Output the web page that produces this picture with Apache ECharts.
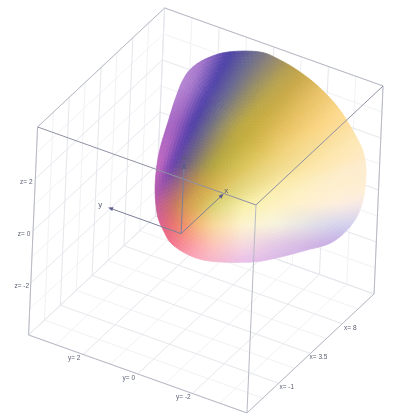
<!DOCTYPE html>
<html><head><meta charset="utf-8">
<style>html,body{margin:0;padding:0;background:#fff}#c{width:400px;height:420px}</style>
<script src="https://cdn.jsdelivr.net/npm/echarts@6/dist/echarts.min.js"></script>
</head><body><div id="c"></div>
<script>
// ---- data ----
const xTicks = [-1, 3.5, 8];
const yTicks = [2, 0, -2];
const zTicks = [2, 0, -2];
const xRange = [-5.5, 12.5];
const yRange = [-4, 4];
const zRange = [-4, 4];
const arrowLengths = [5.5, 2.5, 2.5];
const surfaceAngle = [0,10,30,49,65.4,79.3,91,107,118,128,136.5,147.7,160.6,178.9,195.7,209,217,225,236,247,265,278,295,309,323,335,349];
const surfaceRadius = [102,96.5,90,88.6,91.3,96.7,103,108,111,112,109,103,99.6,103,111,120,124,126.6,123,116,107.4,104,105,112,113.6,111,106];
const bandColumns = [-1,-0.5,-0.25,0,0.25,0.5,0.75,1,1.5,2,3,4,6,8];
const bandRows = [55,85,125,165,205,225,245,265];
const bandColours = [
 ['#c090d8','#c090d8','#a878cc','#4a40a8','#6a6a90','#8f8575','#b0984e','#c8a850','#f0c870','#fbd88a','#fde0a0','#fde8b0','#fde8b0','#fde8b0'],
 ['#c090d8','#c090d8','#a878cc','#4e40aa','#6a6a90','#958c68','#b8a450','#c9a848','#f0c870','#fde0a0','#fde8b8','#fdeac0','#fdeac0','#fdeac0'],
 ['#b070c8','#b070c8','#a060c0','#4c3ca8','#6a6a88','#988f62','#bca840','#c8ae40','#e8c060','#fcd684','#fdeac0','#fdeacc','#fdeacc','#fdeacc'],
 ['#c068c0','#c068c0','#c068c0','#6840b0','#6a5a88','#8a7c68','#a89c48','#bcae40','#d8c458','#ecd47c','#fde6a8','#fdecd0','#fdecd8','#fdecd8'],
 ['#c85ca8','#c85ca8','#c85ca8','#c85ca8','#c46090','#c46878','#c67860','#d09450','#d8b050','#d8d070','#f8f0a8','#fdf2c0','#fdeee0','#e4dcf0'],
 ['#d860a0','#d860a0','#d860a0','#d860a0','#dc6090','#e46878','#ea7870','#f08a64','#f4b878','#f8d898','#fdf4d0','#f8f4de','#d4d4ee','#c8c4ec'],
 ['#ec6090','#ec6090','#ec6090','#ec6090','#ee6090','#f26a90','#f47a92','#f88a96','#fba8a8','#fcc4b8','#f6dae0','#e4c8e6','#c4a8e2','#bfa4e0'],
 ['#f878a0','#f878a0','#f878a0','#f878a0','#f878a0','#f87ca4','#f88aac','#f8a0c0','#f6aac8','#f4b4d0','#e8bcec','#d8b4e8','#c4a8e2','#c4a8e2']
];

// ---- view: parallel projection of the 3D box on the page plane ----
const viewOrigin = [181.1, 233.6];
const ex = [7.06, -6.61], ey = [-27.3, -9.75], ez = [1.125, -26];
function project(x, y, z) {
  return [viewOrigin[0] + x*ex[0] + y*ey[0] + z*ez[0],
          viewOrigin[1] + x*ex[1] + y*ey[1] + z*ez[1]];
}
const [x0, x1] = xRange, [y0, y1] = yRange, [z0, z1] = zRange;
const xStep = (xTicks[1] - xTicks[0]), yStep = 2, zStep = 2;

const STYLE = {
  minor: {stroke:'#f1f2f4', lineWidth:1},
  major: {stroke:'#e6e7ec', lineWidth:1},
  box:   {stroke:'#b8bac6', lineWidth:1},
  front: {stroke:'#8f91a3', lineWidth:1},
  axis:  {stroke:'#7d7f98', lineWidth:1}
};
const back = [], front = [];
function isMajor(v, start, step){ const q=(v-start)/step; return Math.abs(q-Math.round(q))<1e-6; }
for (let x = x0; x <= x1 + 1e-6; x += xStep/2) {
  const s = isMajor(x,x0,xStep) ? 'major' : 'minor';
  back.push([x,y0,z0,x,y1,z0,s],[x,y1,z0,x,y1,z1,s]);
}
for (let y = y0; y <= y1 + 1e-6; y += yStep/2) {
  const s = isMajor(y,y0,yStep) ? 'major' : 'minor';
  back.push([x0,y,z0,x1,y,z0,s],[x1,y,z0,x1,y,z1,s]);
}
for (let z = z0; z <= z1 + 1e-6; z += zStep/2) {
  const s = isMajor(z,z0,zStep) ? 'major' : 'minor';
  back.push([x0,y1,z,x1,y1,z,s],[x1,y0,z,x1,y1,z,s]);
}
back.sort((a,b)=> (a[6]==='major') - (b[6]==='major'));
back.push([x0,y1,z1,x1,y1,z1,'box'],[x1,y1,z1,x1,y0,z1,'box'],
          [x0,y1,z0,x0,y1,z1,'box'],[x1,y0,z0,x1,y0,z1,'box'],
          [x0,y1,z0,x0,y0,z0,'box'],[x0,y0,z0,x1,y0,z0,'box']);
front.push([x0,y0,z1,x0,y1,z1,'front'],[x0,y0,z1,x1,y0,z1,'front'],[x0,y0,z0,x0,y0,z1,'box'],
           [0,0,0,arrowLengths[0],0,0,'axis'],[0,0,0,0,arrowLengths[1],0,'axis'],[0,0,0,0,0,arrowLengths[2],'axis']);

function segShape(d, api) {
  const a = api.coord(project(d[0],d[1],d[2])), b = api.coord(project(d[3],d[4],d[5]));
  return {type:'line', shape:{x1:a[0],y1:a[1],x2:b[0],y2:b[1]}, style:Object.assign({fill:null},STYLE[d[6]]), silent:true};
}

const arrows = [[arrowLengths[0],0,0],[0,arrowLengths[1],0],[0,0,arrowLengths[2]]];

const labels = [];
xTicks.forEach(v => labels.push(['x= '+v, v, y0, z0, 8, 4]));
yTicks.forEach(v => labels.push(['y= '+v, x0, v, z0, -9, 4]));
zTicks.forEach(v => labels.push(['z= '+v, x0, y1, v, -9, 3]));
labels.push(['x', 6.4, 0, 0, 0, 0], ['y', 0, 3, 0, 1, 0], ['z', 0, 0, 2.9, 0, 0]);

// colour lookup over the fan of diagonal bands
function rgb(h){return [parseInt(h.slice(1,3),16),parseInt(h.slice(3,5),16),parseInt(h.slice(5,7),16)];}
const bandRGB = bandColours.map(r=>r.map(rgb));
function locate(arr,v){
  if(v<=arr[0]) return [0,0];
  for(let i=0;i<arr.length-1;i++) if(v<=arr[i+1]) return [i,(v-arr[i])/(arr[i+1]-arr[i])];
  return [arr.length-2,1];
}
function bandCoord(px,py){
  const y=Math.min(205,py);
  const xi=227-0.5*(y-55), xg=293-0.92*(y-85);
  return (px-xi)/(xg-xi);
}
function sample(px,py){
  const [iy,ty]=locate(bandRows,py), [ix,tx]=locate(bandColumns,bandCoord(px,py));
  const A=bandRGB[iy], B=bandRGB[iy+1], out=[0,0,0];
  for(let k=0;k<3;k++){
    const u=A[ix][k]*(1-tx)+A[ix+1][k]*tx, v=B[ix][k]*(1-tx)+B[ix+1][k]*tx;
    out[k]=u*(1-ty)+v*ty;
  }
  return out;
}
function colourAt(px,py){
  const d=4, off=[[0,0],[d,0],[-d,0],[0,d],[0,-d],[d/2,d/2],[-d/2,-d/2],[d/2,-d/2],[-d/2,d/2]];
  const s=[0,0,0];
  off.forEach(o=>{const c=sample(px+o[0],py+o[1]);for(let k=0;k<3;k++)s[k]+=c[k]/off.length;});
  return 'rgb('+s.map(Math.round).join(',')+')';
}
function cr(a,b,c,d,t){return 0.5*((2*b)+(-a+c)*t+(2*a-5*b+4*c-d)*t*t+(-a+3*b-3*c+d)*t*t*t);}
const N = surfaceAngle.length, SUB = 7, RINGS = 34;
const cx = surfaceAngle.map((a,i)=>surfaceRadius[i]*Math.cos(a*Math.PI/180));
const cy = surfaceAngle.map((a,i)=>surfaceRadius[i]*Math.sin(a*Math.PI/180));
const outline = [];
for(let i=0;i<N;i++){
  for(let s=0;s<SUB;s++){
    const t=s/SUB, g=(arr,k)=>arr[(k+N)%N];
    const X=cr(g(cx,i-1),g(cx,i),g(cx,i+1),g(cx,i+2),t), Y=cr(g(cy,i-1),g(cy,i),g(cy,i+1),g(cy,i+2),t);
    let ang=Math.atan2(Y,X)*180/Math.PI; if(ang<0) ang+=360;
    outline.push([Math.hypot(X,Y),ang]);
  }
}
const cells=[];
for(let i=0;i<outline.length;i++) for(let j=0;j<RINGS;j++) cells.push([i,j]);

const chart = echarts.init(document.getElementById('c'), null, {renderer:'canvas'});
chart.setOption({
  animation:false,
  backgroundColor:'#ffffff',
  grid:{left:0,right:0,top:0,bottom:0},
  xAxis:{type:'value',min:0,max:400,show:false},
  yAxis:{type:'value',min:0,max:420,inverse:true,show:false},
  polar:{center:[262,155],radius:200},
  radiusAxis:{type:'value',min:0,max:200,show:false},
  angleAxis:{type:'value',min:0,max:360,startAngle:0,clockwise:false,show:false},
  series:[
    {type:'custom',name:'grid',coordinateSystem:'cartesian2d',z:1,silent:true,progressive:0,clip:false,
     data:back,encode:{x:0,y:1},
     renderItem:(p,api)=>segShape(back[p.dataIndex],api)},
    {type:'custom',name:'surface',coordinateSystem:'polar',z:2,silent:true,progressive:0,
     data:cells,encode:{radius:0,angle:1},
     renderItem:(p,api)=>{
       const [i,j]=cells[p.dataIndex], n=outline.length;
       const a=outline[i], b=outline[(i+1)%n];
       const f0=j/RINGS, f1=(j+1)/RINGS;
       const pts=[[a[0]*f0,a[1]],[a[0]*f1,a[1]],[b[0]*f1,b[1]],[b[0]*f0,b[1]]].map(q=>api.coord(q));
       const mx=(pts[0][0]+pts[1][0]+pts[2][0]+pts[3][0])/4, my=(pts[0][1]+pts[1][1]+pts[2][1]+pts[3][1])/4;
       const c=colourAt(mx,my);
       return {type:'polygon',shape:{points:pts},style:{fill:c,stroke:c,lineWidth:0.7},silent:true};
     }},
    {type:'custom',name:'front',coordinateSystem:'cartesian2d',z:3,silent:true,clip:false,
     data:front,encode:{x:0,y:1},
     renderItem:(p,api)=>segShape(front[p.dataIndex],api)},
    {type:'custom',name:'arrows',coordinateSystem:'cartesian2d',z:4,silent:true,clip:false,
     data:arrows,encode:{x:0,y:1},
     renderItem:(p,api)=>{
       const d=arrows[p.dataIndex];
       const tip=api.coord(project(d[0],d[1],d[2]));
       const o=api.coord(project(0,0,0));
       const L=Math.hypot(tip[0]-o[0],tip[1]-o[1]), ux=(tip[0]-o[0])/L, uy=(tip[1]-o[1])/L;
       const b=[tip[0]+ux*5,tip[1]+uy*5];
       return {type:'polygon',shape:{points:[[b[0],b[1]],[tip[0]-uy*2,tip[1]+ux*2],[tip[0]+uy*2,tip[1]-ux*2]]},style:{fill:'#5a5c8c'},silent:true};
     }},
    {type:'custom',name:'labels',coordinateSystem:'cartesian2d',z:5,silent:true,clip:false,
     data:labels.map(l=>[l[1],l[2]]),encode:{x:0,y:1},
     renderItem:(p,api)=>{
       const l=labels[p.dataIndex];
       const q=api.coord(project(l[1],l[2],l[3]));
       const big=l[0].length===1;
       return {type:'text',style:{text:l[0],x:q[0]+l[4],y:q[1]+l[5],fill:'#5a5f70',font:(big?'8':'6.5')+'px "Liberation Sans", Arial, sans-serif',align:'center',verticalAlign:'middle'},silent:true};
     }}
  ]
});
</script></body></html>
